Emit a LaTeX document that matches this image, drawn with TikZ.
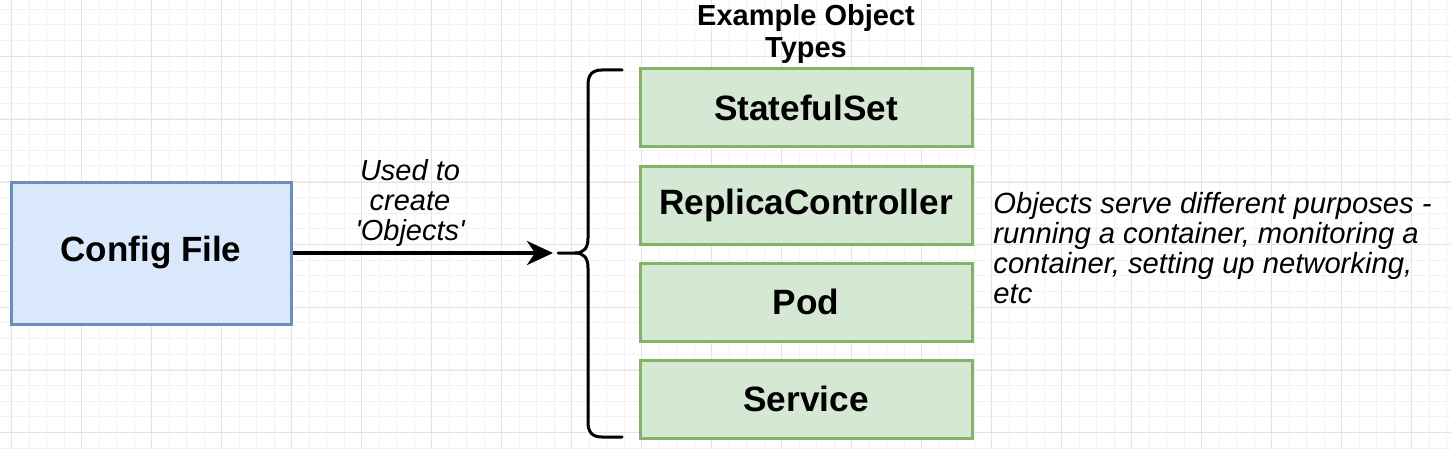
\documentclass[tikz,border=0pt]{standalone}
\usepackage{fontspec}
\setmainfont{Liberation Sans}
\usetikzlibrary{arrows.meta}
\definecolor{cfgfill}{HTML}{DAE8FC}
\definecolor{cfgline}{HTML}{6C8EBF}
\definecolor{objfill}{HTML}{D5E8D4}
\definecolor{objline}{HTML}{82B366}
\definecolor{gridminor}{HTML}{F2F2F2}
\definecolor{gridmajor}{HTML}{E4E4E4}
\begin{document}
\begin{tikzpicture}[x=0.5pt,y=-0.5pt,
  cfg/.style={draw=cfgline, fill=cfgfill, line width=1.5pt, minimum width=140pt, minimum height=71pt, inner sep=0pt, font=\fontsize{17.5}{20}\selectfont\bfseries},
  obj/.style={draw=objline, fill=objfill, line width=1.5pt, minimum width=166pt, minimum height=39pt, inner sep=0pt, font=\fontsize{17.6}{20}\selectfont\bfseries},
  ttlstyle/.style={inner sep=0pt, align=center, font=\fontsize{14.5}{16}\selectfont\bfseries},
  lbl/.style={inner sep=0pt, align=center, font=\fontsize{14.5}{15}\selectfont\itshape},
  note/.style={inner sep=0pt, align=left, font=\fontsize{14.6}{15}\selectfont\itshape},
  flow/.style={line width=2pt, -{Stealth[length=13pt, width=12pt, inset=4pt]}},
  bracestyle/.style={line width=1.5pt, line cap=round, line join=round},
  minorline/.style={draw=gridminor, line width=0.5pt},
  majorline/.style={draw=gridmajor, line width=0.5pt}]
\useasboundingbox (0,0) rectangle (1451,449);
\fill[white] (0,0) rectangle (1451,449);
% grid
\foreach \i in {0,...,82} \draw[minorline] ({11.7+17.5*\i},0) -- ({11.7+17.5*\i},449);
\foreach \j in {0,...,29} \draw[minorline] (0,{9.3+15.67*\j}) -- (1451,{9.3+15.67*\j});
\foreach \i in {0,...,20} \draw[majorline] ({11.7+70*\i},0) -- ({11.7+70*\i},449);
\foreach \j in {0,...,7} \draw[majorline] (0,{-6+62.68*\j}) -- (1451,{-6+62.68*\j});
% nodes
\node[cfg] (cfg) at (151,253) {Config File};
\node[obj] (ss) at (806,107.5) {StatefulSet};
\node[obj] (rc) at (806,205) {ReplicaController};
\node[obj] (pod) at (806,302) {Pod};
\node[obj] (svc) at (806,399) {Service};
\node[ttlstyle] (ttl) at (806,34) {Example Object\\Types};
\node[lbl] (used) at (410,203) {Used to\\create\\\textquotesingle Objects\textquotesingle};
\node[note, anchor=west] (nt) at (993,248) {Objects serve different purposes -\\running a container, monitoring a\\container, setting up networking,\\etc};
\coordinate (tip) at (553,253);
\draw[flow] (cfg) -- (tip);
% brace
\draw[bracestyle] (558,253) -- (575,253) .. controls (584,253) and (588,248) .. (588,238) -- (588,85) .. controls (588,75) and (592,70) .. (602,70) -- (622,70);
\draw[bracestyle] (575,253) .. controls (584,253) and (588,258) .. (588,268) -- (588,422) .. controls (588,432) and (592,437) .. (602,437) -- (622,437);
\end{tikzpicture}
\end{document}
